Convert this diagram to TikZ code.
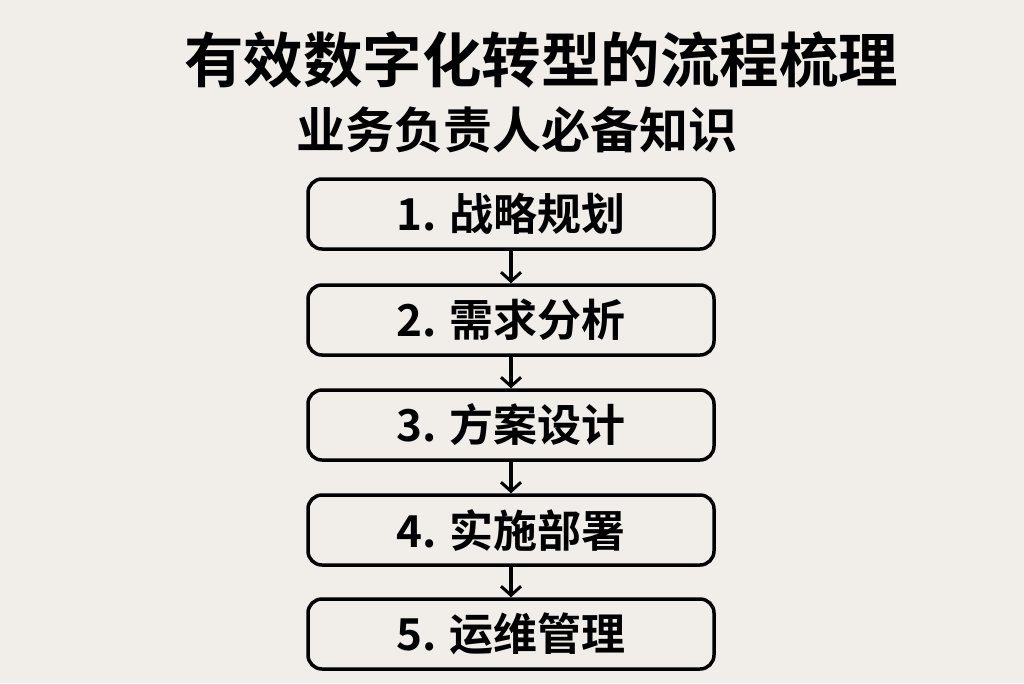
\documentclass[tikz,border=0pt]{standalone}
\usepackage{fontspec}
\setmainfont{Noto Sans CJK SC}[BoldFont={Noto Sans CJK SC Bold}]
\usetikzlibrary{arrows.meta}
\definecolor{bg}{HTML}{F1EEE9}
\tikzset{
  stepbox/.style={draw=black, line width=3.5pt, rounded corners=14pt, fill=bg,
    minimum width=406pt, minimum height=70pt, inner sep=0pt,
    font=\bfseries\fontsize{44}{46}\selectfont},
  flowarrow/.style={draw=black, line width=3.2pt, -{Straight Barb[length=9pt, width=20pt, line width=3pt]}},
}
\begin{document}
\begin{tikzpicture}[x=1pt,y=-1pt]
\fill[bg] (0,0) rectangle (1024,683);
\useasboundingbox (0,0) rectangle (1024,683);
\node[font=\bfseries\fontsize{59.5}{62}\selectfont] (title) at (541,60) {有效数字化转型的流程梳理};
\node[font=\bfseries\fontsize{49}{52}\selectfont] (sub) at (517,130) {业务负责人必备知识};
\node[stepbox] (b1) at (511,214) {1. 战略规划};
\node[stepbox] (b2) at (511,320) {2. 需求分析};
\node[stepbox] (b3) at (511,425) {3. 方案设计};
\node[stepbox] (b4) at (511,530) {4. 实施部署};
\node[stepbox] (b5) at (511,634) {5. 运维管理};
\draw[flowarrow] (b1) -- (b2);
\draw[flowarrow] (b2) -- (b3);
\draw[flowarrow] (b3) -- (b4);
\draw[flowarrow] (b4) -- (b5);
\end{tikzpicture}
\end{document}
